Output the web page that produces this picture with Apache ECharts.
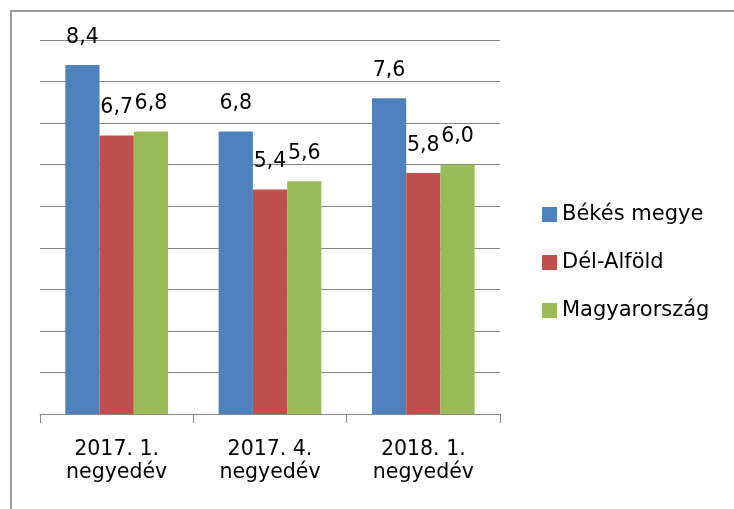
<!DOCTYPE html>
<html lang="hu">
<head>
    <meta charset="UTF-8">
    <title>Békés megye - Dél-Alföld - Magyarország</title>
    <style>
        html, body { margin: 0; padding: 0; background: #fff; }
        #frame {
            position: absolute; left: 10px; top: 10px; width: 724px; height: 499px;
            border-left: 2px solid #9a9a9a; border-top: 2px solid #9a9a9a;
        }
        #chart { position: absolute; left: 0; top: 0; width: 734px; height: 509px; }
    </style>
    <script src="https://cdn.jsdelivr.net/npm/echarts@6.0.0/dist/echarts.min.js"></script>
</head>
<body>
<div id="frame"></div>
<div id="chart"></div>
<script>
    // adatok
    var categories = ['2017. 1.\nnegyedév', '2017. 4.\nnegyedév', '2018. 1.\nnegyedév'];
    var seriesNames = ['Békés megye', 'Dél-Alföld', 'Magyarország'];
    var bekes = [8.4, 6.8, 7.6];
    var delAlfold = [6.7, 5.4, 5.8];
    var magyarorszag = [6.8, 5.6, 6.0];
    var colors = ['#4F81BD', '#C0504D', '#9BBB59'];

    var font = 'DejaVu Sans';
    var chart = echarts.init(document.getElementById('chart'));

    function makeSeries(name, data, color) {
        return {
            name: name,
            type: 'bar',
            data: data,
            barGap: '0%',
            barCategoryGap: '33%',
            itemStyle: { color: color },
            label: {
                show: true,
                position: 'top',
                distance: 17,
                color: '#000',
                fontFamily: font,
                fontSize: 20.5,
                formatter: function (p) { return p.value.toFixed(1).replace('.', ','); }
            }
        };
    }

    chart.setOption({
        animation: false,
        legend: {
            orient: 'vertical',
            left: 537,
            top: 199,
            itemWidth: 15,
            itemHeight: 15,
            itemGap: 27,
            icon: 'rect',
            textStyle: { fontFamily: font, fontSize: 21, color: '#000' },
            data: seriesNames
        },
        grid: { left: 40, right: 234, top: 40, bottom: 95 },
        xAxis: {
            type: 'category',
            data: categories,
            axisLine: { lineStyle: { color: '#868686', width: 1 } },
            axisTick: { show: true, alignWithLabel: false, length: 9, lineStyle: { color: '#868686' } },
            axisLabel: {
                color: '#000',
                fontFamily: font,
                fontSize: 20.5,
                lineHeight: 23,
                margin: 24
            }
        },
        yAxis: {
            type: 'value',
            min: 0,
            max: 9,
            interval: 1,
            axisLabel: { show: false },
            axisLine: { show: false },
            axisTick: { show: false },
            splitLine: { lineStyle: { color: '#868686', width: 1 } }
        },
        series: [
            makeSeries(seriesNames[0], bekes, colors[0]),
            makeSeries(seriesNames[1], delAlfold, colors[1]),
            makeSeries(seriesNames[2], magyarorszag, colors[2])
        ]
    });
</script>
</body>
</html>
